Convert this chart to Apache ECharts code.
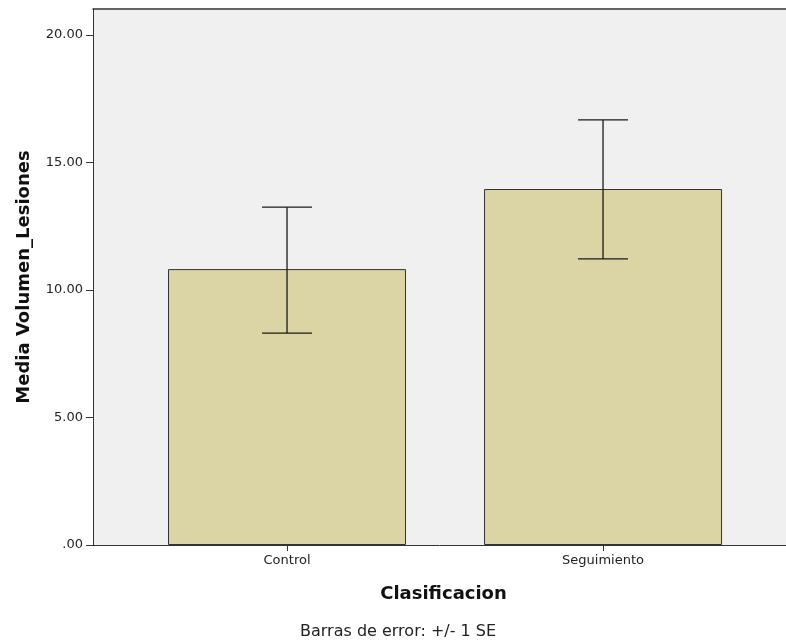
<!DOCTYPE html>
<html><head><meta charset="utf-8">
<script src="https://cdn.jsdelivr.net/npm/echarts@6/dist/echarts.min.js"></script>
<style>html,body{margin:0;padding:0;background:#fff}#c{width:786px;height:644px}</style>
</head><body><div id="c"></div>
<script>
var categories = ['Control', 'Seguimiento'];
var means = [10.82, 13.96];
var upper = [13.25, 16.67];
var lower = [8.31, 11.22];
var yTicks = [0, 5, 10, 15, 20];

var chart = echarts.init(document.getElementById('c'));
var font = 'DejaVu Sans';
var catIdx = categories.map(function(c, i){ return i; });

chart.setOption({
  animation: false,
  grid: { left: 93, right: 0, top: 9, bottom: 99, show: true, backgroundColor: '#f0f0f0', borderWidth: 0 },
  xAxis: [{
    type: 'value', min: -0.614, max: 1.579,
    splitLine: { show: false },
    axisLine: { show: true, onZero: false, lineStyle: { color: '#333' } },
    axisTick: { show: true, customValues: catIdx, length: 6, lineStyle: { color: '#333' } },
    axisLabel: { customValues: catIdx, formatter: function(v){ return categories[Math.round(v)]; }, fontFamily: font, fontSize: 13, color: '#222', margin: 9 },
    name: 'Clasificacion', nameLocation: 'middle', nameGap: 40,
    nameTextStyle: { fontFamily: font, fontSize: 18, fontWeight: 'bold', color: '#111', padding: [0, 0, 0, 8] }
  }, {
    type: 'value', position: 'top', min: -0.614, max: 1.579,
    splitLine: { show: false }, axisTick: { show: false }, axisLabel: { show: false },
    axisLine: { show: true, onZero: false, lineStyle: { color: '#333', width: 1.5 } }
  }],
  yAxis: {
    type: 'value', min: 0, max: 21.02, interval: 5,
    splitLine: { show: false },
    axisLine: { show: true, onZero: false, lineStyle: { color: '#333' } },
    axisTick: { show: true, customValues: yTicks, length: 7, lineStyle: { color: '#333' } },
    axisLabel: { customValues: yTicks, formatter: function(v){ return v === 0 ? '.00' : v.toFixed(2); }, fontFamily: font, fontSize: 13, color: '#222', margin: 10 },
    name: 'Media Volumen_Lesiones', nameLocation: 'middle', nameGap: 60,
    nameTextStyle: { fontFamily: font, fontSize: 18, fontWeight: 'bold', color: '#111' }
  },
  graphic: [{
    type: 'text', left: 300, top: 624,
    style: { text: 'Barras de error: +/- 1 SE', font: '16px "DejaVu Sans"', fill: '#222' }
  }],
  series: [{
    type: 'bar', barWidth: 238,
    data: means.map(function(m, i){ return [i, m]; }),
    itemStyle: { color: '#dbd5a5', borderColor: '#333', borderWidth: 1 }
  }, {
    type: 'custom',
    data: means.map(function(m, i){ return [i, lower[i], upper[i]]; }),
    renderItem: function(params, api){
      var x = api.value(0);
      var lo = api.coord([x, api.value(1)]);
      var hi = api.coord([x, api.value(2)]);
      var hw = 25;
      var st = { stroke: '#1a1a1a', lineWidth: 1.3 };
      return { type: 'group', children: [
        { type: 'line', shape: { x1: lo[0], y1: lo[1], x2: hi[0], y2: hi[1] }, style: st },
        { type: 'line', shape: { x1: hi[0]-hw, y1: hi[1], x2: hi[0]+hw, y2: hi[1] }, style: st },
        { type: 'line', shape: { x1: lo[0]-hw, y1: lo[1], x2: lo[0]+hw, y2: lo[1] }, style: st }
      ]};
    },
    z: 5
  }]
});
</script></body></html>
